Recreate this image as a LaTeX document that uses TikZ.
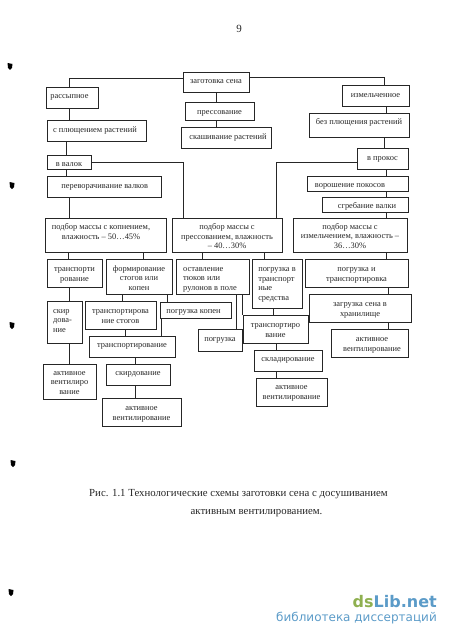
\documentclass[tikz,border=0pt]{standalone}
\usepackage{fontspec}
\setmainfont{Liberation Serif}
\newfontfamily\wmfont{DejaVu Sans}
\definecolor{inkgray}{gray}{0.15}
\definecolor{wmgreen}{HTML}{8FB050}
\definecolor{wmblue}{HTML}{5B9BC8}
\tikzset{
  box/.style={draw=inkgray, line width=0.9pt, inner sep=0pt, font=\fontsize{8.4}{9.7}\selectfont, text=inkgray},
  link/.style={draw=inkgray, line width=0.9pt},
  blot/.style={fill=black, draw=none}
}
% column, name, left, top, right, bottom, text shift right, text shift up, text
\newcommand{\boxnode}[9]{%
  \node[box, minimum width=#5pt-#3pt, minimum height=#6pt-#4pt] (#2) at ({(#3+#5)/2},{(#4+#6)/2})
    {\makebox[0pt]{\hspace*{#7pt}\hspace*{#7pt}\raisebox{\dimexpr#8pt-3.3pt\relax}[0pt][0pt]{\begin{tabular}{@{}#1@{}}#9\end{tabular}}}};
}
\begin{document}
\begin{tikzpicture}[x=1pt,y=-1pt]
\useasboundingbox (0,0) rectangle (450,639);
% Boxes
\boxnode{c}{zagotovka}{183}{72}{249}{92}{0}{2}{заготовка сена}
\boxnode{c}{rassypnoe}{46}{87}{98}{108}{-2.5}{2.5}{рассыпное}
\boxnode{c}{pressovanie}{185}{102}{254}{120}{0}{-0.7}{прессование}
\boxnode{c}{skashivanie}{181}{127}{271}{148}{2}{1.5}{скашивание растений}
\boxnode{c}{izmelchennoe}{342}{85}{409}{106}{0}{1.2}{измельченное}
\boxnode{c}{bezplusch}{309}{113}{409}{137}{0}{3.3}{без плющения растений}
\boxnode{c}{splusch}{47}{120}{146}{141}{-1.5}{1.5}{с плющением растений}
\boxnode{c}{valok}{47}{155}{91}{169}{0}{-1.3}{в валок}
\boxnode{c}{prokos}{357}{148}{408}{169}{0}{1.5}{в прокос}
\boxnode{c}{perevor}{47}{176}{161}{197}{0.7}{1.5}{переворачивание валков}
\boxnode{c}{voroshenie}{307}{176}{408}{191}{-7.5}{-0.8}{ворошение покосов}
\boxnode{c}{sgrebanie}{322}{197}{408}{212}{2}{-0.5}{сгребание валки}
\boxnode{c}{podborA}{45}{218}{166}{252}{-4.5}{3.7}{подбор массы с копнением,\\влажность – 50…45\%}
\boxnode{c}{podborB}{172}{218}{282}{252}{0}{-1}{подбор массы с\\прессованием, влажность\\– 40…30\%}
\boxnode{c}{podborC}{293}{218}{407}{252}{0}{-0.5}{подбор массы с\\измельчением, влажность –\\36…30\%}
\boxnode{c}{transpA}{47}{259}{102}{287}{0}{0}{транспорти\\рование}
\boxnode{c}{formir}{106}{259}{172}{294}{0}{-1}{формирование\\стогов или\\копен}
\boxnode{l}{ostavl}{176}{259}{249}{294}{-2.5}{-1}{оставление\\тюков или\\рулонов в поле}
\boxnode{l}{pogrV}{252}{259}{302}{308}{0}{0.8}{погрузка в\\транспорт\\ные\\средства}
\boxnode{c}{pogrI}{305}{259}{408}{287}{0}{0}{погрузка и\\транспортировка}
\boxnode{c}{zagruzka}{309}{294}{411}{322}{0}{0}{загрузка сена в\\хранилище}
\boxnode{c}{aktivR}{331}{329}{408}{357}{2.5}{0}{активное\\вентилирование}
\boxnode{c}{transpC}{243}{315}{308}{343}{0}{0}{транспортиро\\вание}
\boxnode{c}{sklad}{254}{350}{322}{371}{0}{1.8}{складирование}
\boxnode{c}{aktivC}{256}{378}{327}{406}{0}{1}{активное\\вентилирование}
\boxnode{l}{skirdA}{47}{301}{82}{343}{-2}{2.3}{скир\\дова-\\ние}
\boxnode{c}{transpStog}{85}{301}{156}{329}{0}{0}{транспортирова\\ние стогов}
\boxnode{c}{pogrKopen}{160}{302}{231}{318}{-2}{0}{погрузка копен}
\boxnode{c}{pogruzka}{198}{329}{242}{351}{0}{2}{погрузка}
\boxnode{c}{transpB}{89}{336}{175}{357}{0}{1.8}{транспортирование}
\boxnode{c}{skirdB}{106}{364}{170}{385}{0}{1.8}{скирдование}
\boxnode{c}{aktivB}{102}{398}{181}{426}{0}{0}{активное\\вентилирование}
\boxnode{c}{aktivA}{43}{364}{96}{399}{0}{0}{активное\\вентилиро\\вание}
% Connectors from the top box
\draw[link] (zagotovka.west |- 0,78) -| (rassypnoe.north -| 69,0);
\draw[link] (zagotovka.east |- 0,77) -| (izmelchennoe.north -| 384,0);
\draw[link] (zagotovka.south -| 216,0) -- (pressovanie.north -| 216,0);
\draw[link] (pressovanie.south -| 216,0) -- (skashivanie.north -| 216,0);
% Left branch
\draw[link] (rassypnoe.south -| 69,0) -- (splusch.north -| 69,0);
\draw[link] (splusch.south -| 66,0) -- (valok.north -| 66,0);
\draw[link] (valok.south -| 66,0) -- (perevor.north -| 66,0);
\draw[link] (perevor.south -| 69,0) -- (podborA.north -| 69,0);
\draw[link] (valok.east |- 0,162) -| (podborB.north -| 183,0);
\draw[link] (podborA.south -| 68,0) -- (transpA.north -| 68,0);
\draw[link] (podborA.south -| 143,0) -- (formir.north -| 143,0);
\draw[link] (transpA.south -| 69,0) -- (skirdA.north -| 69,0);
\draw[link] (skirdA.south -| 69,0) -- (aktivA.north -| 69,0);
\draw[link] (formir.south -| 122,0) -- (transpStog.north -| 122,0);
\draw[link] (formir.south -| 167,0) -- (pogrKopen.north -| 167,0);
\draw[link] (transpStog.south -| 125,0) -- (transpB.north -| 125,0);
\draw[link] (pogrKopen.south -| 161,0) -- (transpB.north -| 161,0);
\draw[link] (transpB.south -| 135,0) -- (skirdB.north -| 135,0);
\draw[link] (skirdB.south -| 135,0) -- (aktivB.north -| 135,0);
% Middle branch
\draw[link] (podborB.south -| 202,0) -- (ostavl.north -| 202,0);
\draw[link] (podborB.south -| 264,0) -- (pogrV.north -| 264,0);
\draw[link] (ostavl.south -| 236,0) -- (pogruzka.north -| 236,0);
\draw[link] (ostavl.south -| 242,0) -- (transpC.north -| 242,0);
\draw[link] (pogrV.south -| 273,0) -- (transpC.north -| 273,0);
\draw[link] (transpC.south -| 276,0) -- (sklad.north -| 276,0);
\draw[link] (sklad.south -| 276,0) -- (aktivC.north -| 276,0);
% Right branch
\draw[link] (izmelchennoe.south -| 386,0) -- (bezplusch.north -| 386,0);
\draw[link] (bezplusch.south -| 384,0) -- (prokos.north -| 384,0);
\draw[link] (prokos.south -| 386,0) -- (voroshenie.north -| 386,0);
\draw[link] (voroshenie.south -| 386,0) -- (sgrebanie.north -| 386,0);
\draw[link] (sgrebanie.south -| 386,0) -- (podborC.north -| 386,0);
\draw[link] (prokos.west |- 0,162) -| (podborB.north -| 276,0);
\draw[link] (podborC.south -| 386,0) -- (pogrI.north -| 386,0);
\draw[link] (pogrI.south -| 388,0) -- (zagruzka.north -| 388,0);
\draw[link] (zagruzka.south -| 388,0) -- (aktivR.north -| 388,0);
% Page number, caption and site mark
\node[font=\fontsize{11}{13}\selectfont, text=inkgray] (pagenum) at (239,29) {9};
\node[font=\fontsize{10.8}{12}\selectfont, text=inkgray] (captionA) at (238.5,494) {Рис. 1.1 Технологические схемы заготовки сена с досушиванием};
\node[font=\fontsize{10.8}{12}\selectfont, text=inkgray] (captionB) at (256.5,513) {активным вентилированием.};
\node[font=\wmfont\bfseries\fontsize{16}{20}\selectfont, anchor=east, inner sep=0pt] (wmsite) at (437,602) {\textcolor{wmgreen}{ds}\textcolor{wmblue}{Lib.net}};
\node[font=\wmfont\fontsize{12}{15}\selectfont, text=wmblue, anchor=east, inner sep=0pt] (wmline) at (437,618) {библиотека диссертаций};
% Punch marks down the margin
\foreach \bx/\by in {10/66,12/185,12/325,13/463,11/592} {
  \fill[blot] (\bx-2.5,\by-3) -- (\bx+2.5,\by-2) -- (\bx+2,\by+2) -- (\bx,\by+4) -- (\bx-2,\by+2) -- cycle;
}
\end{tikzpicture}
\end{document}
